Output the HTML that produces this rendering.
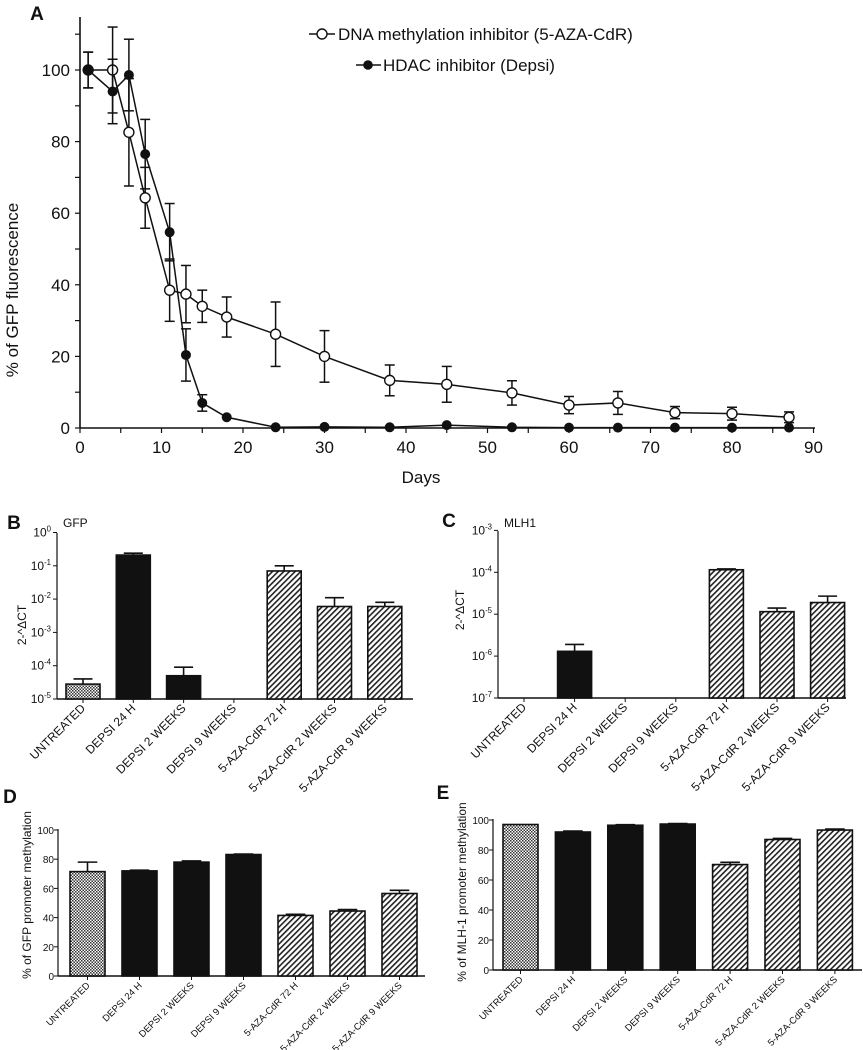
<!DOCTYPE html>
<html><head><meta charset="utf-8"><style>
html,body{margin:0;padding:0;background:#fff;}
svg{display:block;font-family:"Liberation Sans",Arial,sans-serif;}
</style></head><body>
<svg id="fig" width="863" height="1050" viewBox="0 0 863 1050" xmlns="http://www.w3.org/2000/svg">
<defs>
<pattern id="check" width="3" height="3" patternUnits="userSpaceOnUse"><rect width="3" height="3" fill="#fff"/><rect width="1.5" height="1.5" fill="#333"/><rect x="1.5" y="1.5" width="1.5" height="1.5" fill="#333"/></pattern>
<pattern id="hatch" width="4" height="4" patternUnits="userSpaceOnUse" patternTransform="rotate(45)"><rect width="4" height="4" fill="#fff"/><rect width="1.6" height="4" fill="#222"/></pattern>
</defs>
<g id="root"></g>
</svg>
<script>
// Panel A data
const daysA = [1,4,6,8,11,13,15,18,24,30,38,45,53,60,66,73,80,87];
const azaVals = [100,100,82.6,64.3,38.5,37.4,34,31,26.2,20,13.3,12.2,9.8,6.4,7,4.3,4,3];
const azaErr = [5,12,15,8.5,8.7,8,4.5,5.6,9,7.2,4.3,5,3.4,2.4,3.2,1.7,1.8,1.5];
const depsiVals = [100,94,98.6,76.5,54.7,20.4,7,3,0.2,0.3,0.2,0.8,0.2,0.1,0.1,0.1,0.1,0.1];
const depsiErr = [5,9,10,9.7,8,7.3,2.3,0,0,0,0,0,0,0,0,0,0,0];
const xTicksA = [0,10,20,30,40,50,60,70,80,90];
const yTicksA = [0,20,40,60,80,100];
// Bar panels
const categories = ["UNTREATED","DEPSI 24 H","DEPSI 2 WEEKS","DEPSI 9 WEEKS","5-AZA-CdR 72 H","5-AZA-CdR 2 WEEKS","5-AZA-CdR 9 WEEKS"];
const fills = ["check","solid","solid","solid","hatch","hatch","hatch"];
const gfpExpr = [2.8e-5,0.21,5e-5,0,0.07,6e-3,6e-3];
const gfpExprErr = [4e-5,0.24,9e-5,0,0.1,1.1e-2,8e-3];
const mlhExpr = [0,1.3e-6,0,0,1.15e-4,1.15e-5,1.9e-5];
const mlhExprErr = [0,1.9e-6,0,0,1.2e-4,1.4e-5,2.7e-5];
const gfpMeth = [71.5,72,78,83.2,41.5,44.5,56.5];
const gfpMethErr = [6.5,0.5,0.8,0.3,0.8,1,2.2];
const mlhMeth = [97,92,96.5,97.3,70.3,87,93.3];
const mlhMethErr = [0,0.6,0.4,0.3,1.5,0.7,0.7];
const logTicksB = [0,-1,-2,-3,-4,-5];
const logTicksC = [-3,-4,-5,-6,-7];
const linTicks = [0,20,40,60,80,100];

const NS="http://www.w3.org/2000/svg";
const root=document.getElementById('root');
function mk(tag,attrs,parent,text){const e=document.createElementNS(NS,tag);for(const k in attrs)e.setAttribute(k,attrs[k]);if(text!==undefined)e.textContent=text;(parent||root).appendChild(e);return e;}
function line(x1,y1,x2,y2,w,p,name){const l=mk('line',{x1,y1,x2,y2,stroke:'#111','stroke-width':w||1.3},p);return l;}
function txt(x,y,s,size,anchor,p,name,extra){const t=mk('text',Object.assign({x,y,'font-size':size,'text-anchor':anchor||'start',fill:'#111'},extra||{}),p,s);return t;}

// ---------- Panel A ----------
(function(){
 const g=mk('g',{});
 const x0=80,xs=8.15,y0=428,ys=3.58;
 const X=d=>x0+d*xs, Y=v=>y0-v*ys;
 txt(37,20,'A',19,'middle',g,'panel-a-label',{'font-weight':'bold'});
 line(80,17,80,428,1.6,g,'y-axis');
 line(80,428,815,428,1.6,g,'x-axis');
 for(let v=0;v<=110;v+=10){line(75,Y(v),80,Y(v),1.2,g,'y-tick');}
 yTicksA.forEach(v=>txt(70,Y(v)+6,String(v),17,'end',g,'y-tick-label'));
 for(let d=0;d<=90;d+=5){line(X(d),428,X(d),433,1.2,g,'x-tick');}
 xTicksA.forEach(d=>txt(X(d),453,String(d),17,'middle',g,'x-tick-label'));
 txt(421,483,'Days',17,'middle',g,'x-axis-title');
 txt(18,290,'% of GFP fluorescence',17,'middle',g,'y-axis-title',{transform:'rotate(-90 18 290)'});
 function series(vals,errs,filled,name){
  const pts=daysA.map((d,i)=>X(d)+','+Y(vals[i])).join(' ');
  const pl=mk('polyline',{points:pts,fill:'none',stroke:'#111','stroke-width':1.5},g);
  
  daysA.forEach((d,i)=>{
   if(errs[i]>0){const x=X(d);
    line(x,Y(vals[i]-errs[i]),x,Y(vals[i]+errs[i]),1.5,g,name+'-error-bar');
    line(x-5,Y(vals[i]+errs[i]),x+5,Y(vals[i]+errs[i]),1.5,g,name+'-error-cap');
    line(x-5,Y(vals[i]-errs[i]),x+5,Y(vals[i]-errs[i]),1.5,g,name+'-error-cap');}
  });
  daysA.forEach((d,i)=>{const c=mk('circle',{cx:X(d),cy:Y(vals[i]),r:filled?4.3:5,fill:filled?'#111':'#fff',stroke:'#111','stroke-width':1.4},g);
   });
 }
 series(azaVals,azaErr,false,'aza-series');
 series(depsiVals,depsiErr,true,'depsi-series');
 line(309,34,335,34,1.5,g,'legend-line');
 const c1=mk('circle',{cx:322,cy:34,r:5,fill:'#fff',stroke:'#111','stroke-width':1.4},g);
 txt(338,40,'DNA methylation inhibitor (5-AZA-CdR)',17,'start',g,'legend-entry-aza');
 line(356,65,381,65,1.5,g,'legend-line');
 const c2=mk('circle',{cx:368,cy:65,r:4.3,fill:'#111',stroke:'#111'},g);
 txt(383,71,'HDAC inhibitor (Depsi)',17,'start',g,'legend-entry-depsi');
})();

// ---------- Bar panel helper ----------
function barPanel(o){
 const g=mk('g',{});
 const Y=o.log?(v=>o.yBot-(Math.log10(v)-o.min)*o.ys):(v=>o.yBot-(v-o.min)*o.ys);
 txt(o.lx,o.ly,o.label,19,'middle',g,o.name+'-label',{'font-weight':'bold'});
 if(o.sub)txt(o.sx,o.sy,o.sub,12,'start',g,o.name+'-subtitle');
 line(o.ax,o.yTop,o.ax,o.yBot,1.2,g,'y-axis');
 line(o.ax,o.yBot,o.xEnd,o.yBot,1.4,g,'x-axis');
 o.ticks.forEach(t=>{const y=o.log?o.yBot-(t-o.min)*o.ys:Y(t);
  line(o.ax-4,y,o.ax,y,1,g,'y-tick');
  if(o.log){const tt=txt(o.ax-6,y+4,'',o.tf,'end',g,'y-tick-label');
    mk('tspan',{},tt,'10');mk('tspan',{dy:-5,'font-size':o.tf*0.65},tt,String(t));}
  else txt(o.ax-4,y+4,String(t),o.tf,'end',g,'y-tick-label');
 });
 txt(o.tx,o.ty,o.title,o.titleF,'middle',g,'y-axis-title',{transform:`rotate(-90 ${o.tx} ${o.ty})`});
 categories.forEach((c,i)=>{
  const cx=o.c0+i*o.sp, v=o.vals[i], e=o.errs[i];
  line(cx,o.yBot,cx,o.yBot+4,1,g,'x-tick');
  txt(cx+3,o.yBot+10,c,o.lf,'end',g,'x-tick-label',{transform:`rotate(-45 ${cx+3} ${o.yBot+10})`});
  if(v>0){
   const top=Y(v);
   if(e>v){const et=Y(e);line(cx,et,cx,top,1.6,g,'error-bar');line(cx-o.bw*0.28,et,cx+o.bw*0.28,et,1.6,g,'error-cap');}
   const f=fills[i]==='solid'?'#111':'url(#'+fills[i]+')';
   const r=mk('rect',{x:cx-o.bw/2,y:top,width:o.bw,height:o.yBot-top,fill:f,stroke:'#111','stroke-width':1.6},g);
   
   
  }
 });
}
function barPanelLin(o){ o.errs=o.vals.map((v,i)=>v+o.e[i]);barPanel(o); }
barPanel({name:'panel-b',log:true,min:-5,yTop:533,yBot:699,ys:33.3,ax:57,xEnd:413,ticks:logTicksB,tf:12,
 label:'B',lx:14,ly:529,sub:'GFP',sx:63,sy:527,title:'2-^\u0394CT',tx:26,ty:625,titleF:12,
 c0:83,sp:50.3,bw:34,vals:gfpExpr,errs:gfpExprErr,lf:12});
barPanel({name:'panel-c',log:true,min:-7,yTop:531,yBot:698,ys:41.9,ax:498,xEnd:846,ticks:logTicksC,tf:12,
 label:'C',lx:449,ly:527,sub:'MLH1',sx:504,sy:527,title:'2-^\u0394CT',tx:464,ty:610,titleF:12,
 c0:524,sp:50.6,bw:34,vals:mlhExpr,errs:mlhExprErr,lf:12});
barPanelLin({name:'panel-d',log:false,min:0,yTop:829,yBot:976,ys:1.46,ax:58,xEnd:425,ticks:linTicks,tf:10,
 label:'D',lx:10,ly:803,title:'% of GFP promoter methylation',tx:31,ty:895,titleF:12,
 c0:87.5,sp:52,bw:35,vals:gfpMeth,e:gfpMethErr,lf:9.5});
barPanelLin({name:'panel-e',log:false,min:0,yTop:819,yBot:970,ys:1.5,ax:493,xEnd:862,ticks:linTicks,tf:10,
 label:'E',lx:443,ly:799,title:'% of MLH-1 promoter methylation',tx:466,ty:892,titleF:12,
 c0:520.5,sp:52.4,bw:35,vals:mlhMeth,e:mlhMethErr,lf:9.5});
</script>
</body></html>
